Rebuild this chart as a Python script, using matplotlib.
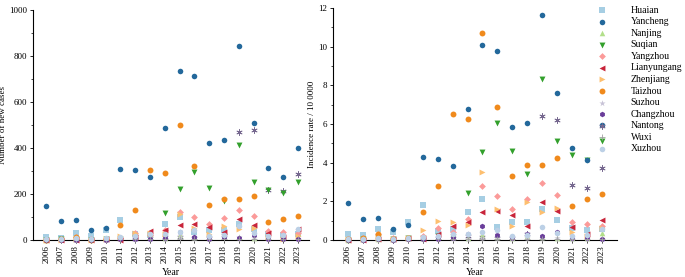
import numpy as np
import matplotlib
matplotlib.use("Agg")
import matplotlib.pyplot as plt
from matplotlib.ticker import MultipleLocator

plt.rcParams['font.family'] = ['Liberation Serif', 'DejaVu Serif']

years = list(range(2006, 2024))
cities = ["Huaian", "Yancheng", "Nanjing", "Suqian", "Yangzhou", "Lianyungang",
          "Zhenjiang", "Taizhou", "Suzhou", "Changzhou", "Nantong", "Wuxi", "Xuzhou"]

# Number of new cases
cases_huaian = [14, 8, 29, 19, 43, 87, 28, 22, 70, 101, 33, 45, 45, 68, 50, 28, 23, 26]
cases_yancheng = [146, 83, 86, 43, 54, 309, 303, 275, 488, 735, 713, 422, 436, 843, 510, 314, 275, 401]
cases_nanjing = [2, 3, 5, 4, 9, 7, 18, 14, 9, 22, 14, 9, 18, 14, 9, 11, 9, 32]
cases_suqian = [0, 3, 4, 2, 5, 5, 9, 8, 116, 220, 296, 226, 168, 412, 254, 217, 206, 254]
cases_yangzhou = [2, 4, 13, 4, 4, 9, 29, 20, 43, 122, 101, 70, 96, 132, 104, 39, 36, 30]
cases_lianyungang = [0, 1, 2, 1, 4, 2, 14, 39, 43, 64, 70, 55, 35, 90, 67, 30, 14, 46]
cases_zhenjiang = [2, 1, 3, 2, 3, 17, 31, 30, 26, 112, 51, 24, 63, 46, 54, 13, 6, 19]
cases_taizhou = [2, 4, 12, 2, 4, 64, 129, 303, 290, 499, 320, 151, 180, 180, 190, 77, 91, 106]
cases_suzhou = [6, 4, 6, 5, 6, 10, 12, 10, 6, 12, 10, 12, 14, 12, 10, 7, 8, 6]
cases_changzhou = [1, 1, 2, 1, 2, 3, 4, 5, 8, 36, 13, 5, 15, 10, 22, 5, 5, 3]
cases_nantong = [2, 2, 2, 2, 2, 4, 6, 8, 15, 12, 9, 8, 23, 470, 478, 219, 213, 288]
cases_wuxi = [1, 1, 1, 2, 2, 3, 3, 3, 4, 3, 3, 3, 3, 4, 3, 3, 3, 3]
cases_xuzhou = [5, 5, 7, 5, 9, 14, 18, 27, 27, 36, 45, 18, 23, 62, 32, 18, 23, 50]

# Incidence rate per 100 000
rate_huaian = [0.31, 0.26, 0.58, 0.40, 0.95, 1.82, 0.45, 0.55, 1.43, 2.10, 0.69, 0.95, 0.95, 1.60, 1.05, 0.60, 0.50, 0.55]
rate_yancheng = [1.91, 1.10, 1.13, 0.58, 0.76, 4.28, 4.21, 3.83, 6.77, 10.1, 9.8, 5.82, 6.05, 11.66, 7.61, 4.74, 4.12, 5.96]
rate_nanjing = [0.02, 0.03, 0.05, 0.04, 0.10, 0.08, 0.20, 0.15, 0.10, 0.25, 0.15, 0.10, 0.20, 0.15, 0.10, 0.12, 0.10, 0.35]
rate_suqian = [0.0, 0.05, 0.08, 0.03, 0.10, 0.10, 0.20, 0.15, 2.44, 4.54, 6.05, 4.60, 3.39, 8.33, 5.14, 4.42, 4.12, 5.10]
rate_yangzhou = [0.05, 0.10, 0.30, 0.10, 0.08, 0.20, 0.60, 0.40, 1.10, 2.78, 2.30, 1.58, 2.13, 2.94, 2.32, 0.91, 0.82, 0.72]
rate_lianyungang = [0.0, 0.02, 0.05, 0.03, 0.09, 0.05, 0.30, 0.74, 0.95, 1.44, 1.51, 1.27, 0.72, 1.99, 1.49, 0.69, 0.30, 1.03]
rate_zhenjiang = [0.05, 0.03, 0.10, 0.05, 0.10, 0.52, 0.98, 0.95, 0.80, 3.50, 1.58, 0.74, 1.96, 1.43, 1.68, 0.40, 0.20, 0.60]
rate_taizhou = [0.05, 0.10, 0.30, 0.05, 0.10, 1.43, 2.78, 6.53, 6.27, 10.72, 6.87, 3.30, 3.90, 3.90, 4.26, 1.74, 2.10, 2.39]
rate_suzhou = [0.05, 0.03, 0.05, 0.04, 0.05, 0.08, 0.10, 0.08, 0.05, 0.10, 0.08, 0.10, 0.12, 0.10, 0.08, 0.06, 0.07, 0.05]
rate_changzhou = [0.02, 0.02, 0.03, 0.02, 0.03, 0.05, 0.07, 0.10, 0.30, 0.72, 0.25, 0.10, 0.30, 0.20, 0.43, 0.10, 0.10, 0.07]
rate_nantong = [0.02, 0.02, 0.03, 0.02, 0.03, 0.05, 0.08, 0.10, 0.20, 0.15, 0.12, 0.10, 0.30, 6.39, 6.19, 2.84, 2.71, 3.74]
rate_wuxi = [0.01, 0.02, 0.02, 0.03, 0.03, 0.04, 0.05, 0.05, 0.06, 0.05, 0.05, 0.04, 0.05, 0.06, 0.05, 0.04, 0.04, 0.05]
rate_xuzhou = [0.05, 0.05, 0.08, 0.05, 0.10, 0.15, 0.20, 0.30, 0.30, 0.40, 0.50, 0.20, 0.25, 0.69, 0.35, 0.20, 0.25, 0.55]

cases = [cases_huaian, cases_yancheng, cases_nanjing, cases_suqian, cases_yangzhou,
         cases_lianyungang, cases_zhenjiang, cases_taizhou, cases_suzhou, cases_changzhou,
         cases_nantong, cases_wuxi, cases_xuzhou]
rates = [rate_huaian, rate_yancheng, rate_nanjing, rate_suqian, rate_yangzhou,
         rate_lianyungang, rate_zhenjiang, rate_taizhou, rate_suzhou, rate_changzhou,
         rate_nantong, rate_wuxi, rate_xuzhou]

colors = ["#a6cee3", "#23689b", "#b2df8a", "#33a02c", "#fb9a99", "#c8243a",
          "#fdbf6f", "#f08a1c", "#c7c2d6", "#6a3d9a", "#76688f", "#a0a0a0", "#bcd0e6"]
markers = ["s", "o", "^", "v", "D", "<", ">", "o", "*", "h", (6, 2, 0), "+", "o"]
sizes = [14, 16, 16, 18, 12, 18, 18, 18, 22, 16, 16, 18, 16]
zorders = [3, 3.9, 3, 3, 3, 3, 3, 3, 3, 3, 2.9, 3, 3]

fig = plt.figure(figsize=(6.85, 2.77), dpi=100)
ax1 = fig.add_axes([33/685, 1-240/277, (309-33)/685, 230/277])
ax2 = fig.add_axes([333/685, 1-240/277, (617-333)/685, 232/277])

def draw(ax, data):
    handles = []
    for name, vals, c, m, s, z in zip(cities, data, colors, markers, sizes, zorders):
        lw = 0.6 if m in ("+", (6, 2, 0)) else 0
        h = ax.scatter(years, vals, s=s, c=c, marker=m, linewidths=lw,
                       label=name, zorder=z, clip_on=False)
        handles.append(h)
    for sp in ("top", "right"):
        ax.spines[sp].set_visible(False)
    for sp in ("left", "bottom"):
        ax.spines[sp].set_linewidth(0.8)
    ax.set_xticks(years)
    ax.set_xticklabels([str(y) for y in years], rotation=90)
    ax.tick_params(axis="both", labelsize=6.5, length=2.5, width=0.6, pad=1.5)
    ax.tick_params(axis="y", which="minor", length=1.8, width=0.5)
    ax.set_xlabel("Year", fontsize=7, labelpad=3)
    return handles

handles = draw(ax1, cases)
ax1.set_xlim(2005.1, 2023.74)
ax1.set_ylim(0, 1000)
ax1.yaxis.set_major_locator(MultipleLocator(200))
ax1.yaxis.set_minor_locator(MultipleLocator(100))
ax1.set_ylabel("Number of new cases", fontsize=6.5, labelpad=1.5)

draw(ax2, rates)
ax2.set_xlim(2005.0, 2024.0)
ax2.set_ylim(0, 12)
ax2.yaxis.set_major_locator(MultipleLocator(2))
ax2.yaxis.set_minor_locator(MultipleLocator(1))
ax2.set_ylabel("Incidence rate / 10 0000", fontsize=6.5, labelpad=2)

fig.legend(handles=handles, loc="upper left", bbox_to_anchor=(590/685, 1.0),
           frameon=False, fontsize=7, handletextpad=2.4, labelspacing=0.26,
           borderaxespad=0.2, handlelength=1.2)

fig.savefig("out.png", dpi=100)
